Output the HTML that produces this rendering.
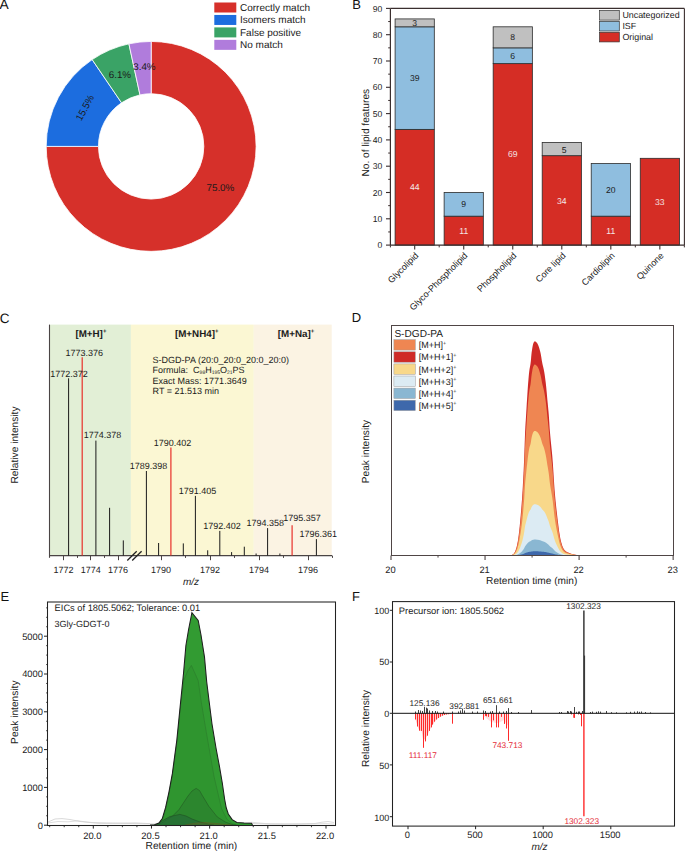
<!DOCTYPE html>
<html><head><meta charset="utf-8"><style>
html,body{margin:0;padding:0;background:#fff;}
svg{display:block;font-family:"Liberation Sans", sans-serif;text-rendering:geometricPrecision;}
</style></head><body>
<svg width="685" height="852" viewBox="0 0 685 852">
<rect width="685" height="852" fill="#fff"/>
<text x="-0.60" y="9.40" font-size="13.8" text-anchor="start" fill="#111" >A</text>
<path d="M151.15,41.45 A104.95,104.95 0 1 1 46.20,146.40 L98.45,146.40 A52.7,52.7 0 1 0 151.15,93.70 Z" fill="#d6302a" stroke="#fff" stroke-width="0.8"/>
<path d="M46.20,146.40 A104.95,104.95 0 0 1 92.16,59.60 L121.53,102.81 A52.7,52.7 0 0 0 98.45,146.40 Z" fill="#1c6ddf" stroke="#fff" stroke-width="0.8"/>
<path d="M92.16,59.60 A104.95,104.95 0 0 1 128.90,43.84 L139.98,94.90 A52.7,52.7 0 0 0 121.53,102.81 Z" fill="#3aa366" stroke="#fff" stroke-width="0.8"/>
<path d="M128.90,43.84 A104.95,104.95 0 0 1 151.15,41.45 L151.15,93.70 A52.7,52.7 0 0 0 139.98,94.90 Z" fill="#b07cdc" stroke="#fff" stroke-width="0.8"/>
<text x="220.40" y="191.00" font-size="9.85" text-anchor="middle" fill="#1a1a1a" >75.0%</text>
<text x="119.90" y="77.70" font-size="9.8" text-anchor="middle" fill="#1a1a1a" >6.1%</text>
<text x="144.40" y="69.70" font-size="9.8" text-anchor="middle" fill="#1a1a1a" >3.4%</text>
<g transform="translate(84.8,107.7) rotate(-62)"><text x="0" y="3.5" font-size="9.8" text-anchor="middle" fill="#1a1a1a">15.5%</text></g>
<rect x="214.30" y="2.50" width="22.00" height="10.00" fill="#d6302a" stroke="none" stroke-width="0" />
<text x="240.00" y="10.70" font-size="10" text-anchor="start" fill="#1a1a1a" >Correctly match</text>
<rect x="214.30" y="14.95" width="22.00" height="10.00" fill="#1c6ddf" stroke="none" stroke-width="0" />
<text x="240.00" y="23.15" font-size="10" text-anchor="start" fill="#1a1a1a" >Isomers match</text>
<rect x="214.30" y="27.40" width="22.00" height="10.00" fill="#3aa366" stroke="none" stroke-width="0" />
<text x="240.00" y="35.60" font-size="10" text-anchor="start" fill="#1a1a1a" >False positive</text>
<rect x="214.30" y="39.85" width="22.00" height="10.00" fill="#b07cdc" stroke="none" stroke-width="0" />
<text x="240.00" y="48.05" font-size="10" text-anchor="start" fill="#1a1a1a" >No match</text>
<text x="352.30" y="8.90" font-size="13" text-anchor="start" fill="#111" >B</text>
<rect x="395.10" y="129.38" width="39.20" height="115.72" fill="#d52d25" stroke="#2a2a2a" stroke-width="0.8" />
<text x="414.70" y="190.34" font-size="8.6" text-anchor="middle" fill="#f3e6e6" >44</text>
<rect x="395.10" y="26.81" width="39.20" height="102.57" fill="#8fbedf" stroke="#2a2a2a" stroke-width="0.8" />
<text x="414.70" y="81.19" font-size="8.6" text-anchor="middle" fill="#1a1a1a" >39</text>
<rect x="395.10" y="18.92" width="39.20" height="7.89" fill="#c0c0c0" stroke="#2a2a2a" stroke-width="0.8" />
<text x="414.70" y="25.97" font-size="8.6" text-anchor="middle" fill="#1a1a1a" >3</text>
<rect x="444.13" y="216.17" width="39.20" height="28.93" fill="#d52d25" stroke="#2a2a2a" stroke-width="0.8" />
<text x="463.73" y="233.73" font-size="8.6" text-anchor="middle" fill="#f3e6e6" >11</text>
<rect x="444.13" y="192.50" width="39.20" height="23.67" fill="#8fbedf" stroke="#2a2a2a" stroke-width="0.8" />
<text x="463.73" y="207.43" font-size="8.6" text-anchor="middle" fill="#1a1a1a" >9</text>
<rect x="493.16" y="63.63" width="39.20" height="181.47" fill="#d52d25" stroke="#2a2a2a" stroke-width="0.8" />
<text x="512.76" y="157.47" font-size="8.6" text-anchor="middle" fill="#f3e6e6" >69</text>
<rect x="493.16" y="47.85" width="39.20" height="15.78" fill="#8fbedf" stroke="#2a2a2a" stroke-width="0.8" />
<text x="512.76" y="58.84" font-size="8.6" text-anchor="middle" fill="#1a1a1a" >6</text>
<rect x="493.16" y="26.81" width="39.20" height="21.04" fill="#c0c0c0" stroke="#2a2a2a" stroke-width="0.8" />
<text x="512.76" y="40.43" font-size="8.6" text-anchor="middle" fill="#1a1a1a" >8</text>
<rect x="542.19" y="155.68" width="39.20" height="89.42" fill="#d52d25" stroke="#2a2a2a" stroke-width="0.8" />
<text x="561.79" y="204.49" font-size="8.6" text-anchor="middle" fill="#f3e6e6" >34</text>
<rect x="542.19" y="142.53" width="39.20" height="13.15" fill="#c0c0c0" stroke="#2a2a2a" stroke-width="0.8" />
<text x="564.09" y="153.41" font-size="8.6" text-anchor="middle" fill="#1a1a1a" >5</text>
<rect x="591.22" y="216.17" width="39.20" height="28.93" fill="#d52d25" stroke="#2a2a2a" stroke-width="0.8" />
<text x="610.82" y="233.73" font-size="8.6" text-anchor="middle" fill="#f3e6e6" >11</text>
<rect x="591.22" y="163.57" width="39.20" height="52.60" fill="#8fbedf" stroke="#2a2a2a" stroke-width="0.8" />
<text x="610.82" y="192.97" font-size="8.6" text-anchor="middle" fill="#1a1a1a" >20</text>
<rect x="640.25" y="158.31" width="39.20" height="86.79" fill="#d52d25" stroke="#2a2a2a" stroke-width="0.8" />
<text x="659.85" y="204.80" font-size="8.6" text-anchor="middle" fill="#f3e6e6" >33</text>
<line x1="390.40" y1="8.40" x2="684.40" y2="8.40" stroke="#3a2e2e" stroke-width="1.1" />
<line x1="684.40" y1="8.40" x2="684.40" y2="245.10" stroke="#3a2e2e" stroke-width="1.1" />
<line x1="390.40" y1="245.10" x2="684.40" y2="245.10" stroke="#3a2e2e" stroke-width="1.2" />
<line x1="390.40" y1="8.40" x2="390.40" y2="245.10" stroke="#3a2e2e" stroke-width="1.2" />
<line x1="386.00" y1="245.10" x2="390.40" y2="245.10" stroke="#3a2e2e" stroke-width="1.1" />
<text x="382.20" y="248.20" font-size="8.6" text-anchor="end" fill="#222" >0</text>
<line x1="388.20" y1="231.95" x2="390.40" y2="231.95" stroke="#3a2e2e" stroke-width="1.0" />
<line x1="386.00" y1="218.80" x2="390.40" y2="218.80" stroke="#3a2e2e" stroke-width="1.1" />
<text x="382.20" y="221.90" font-size="8.6" text-anchor="end" fill="#222" >10</text>
<line x1="388.20" y1="205.65" x2="390.40" y2="205.65" stroke="#3a2e2e" stroke-width="1.0" />
<line x1="386.00" y1="192.50" x2="390.40" y2="192.50" stroke="#3a2e2e" stroke-width="1.1" />
<text x="382.20" y="195.60" font-size="8.6" text-anchor="end" fill="#222" >20</text>
<line x1="388.20" y1="179.35" x2="390.40" y2="179.35" stroke="#3a2e2e" stroke-width="1.0" />
<line x1="386.00" y1="166.20" x2="390.40" y2="166.20" stroke="#3a2e2e" stroke-width="1.1" />
<text x="382.20" y="169.30" font-size="8.6" text-anchor="end" fill="#222" >30</text>
<line x1="388.20" y1="153.05" x2="390.40" y2="153.05" stroke="#3a2e2e" stroke-width="1.0" />
<line x1="386.00" y1="139.90" x2="390.40" y2="139.90" stroke="#3a2e2e" stroke-width="1.1" />
<text x="382.20" y="143.00" font-size="8.6" text-anchor="end" fill="#222" >40</text>
<line x1="388.20" y1="126.75" x2="390.40" y2="126.75" stroke="#3a2e2e" stroke-width="1.0" />
<line x1="386.00" y1="113.60" x2="390.40" y2="113.60" stroke="#3a2e2e" stroke-width="1.1" />
<text x="382.20" y="116.70" font-size="8.6" text-anchor="end" fill="#222" >50</text>
<line x1="388.20" y1="100.45" x2="390.40" y2="100.45" stroke="#3a2e2e" stroke-width="1.0" />
<line x1="386.00" y1="87.30" x2="390.40" y2="87.30" stroke="#3a2e2e" stroke-width="1.1" />
<text x="382.20" y="90.40" font-size="8.6" text-anchor="end" fill="#222" >60</text>
<line x1="388.20" y1="74.15" x2="390.40" y2="74.15" stroke="#3a2e2e" stroke-width="1.0" />
<line x1="386.00" y1="61.00" x2="390.40" y2="61.00" stroke="#3a2e2e" stroke-width="1.1" />
<text x="382.20" y="64.10" font-size="8.6" text-anchor="end" fill="#222" >70</text>
<line x1="388.20" y1="47.85" x2="390.40" y2="47.85" stroke="#3a2e2e" stroke-width="1.0" />
<line x1="386.00" y1="34.70" x2="390.40" y2="34.70" stroke="#3a2e2e" stroke-width="1.1" />
<text x="382.20" y="37.80" font-size="8.6" text-anchor="end" fill="#222" >80</text>
<line x1="388.20" y1="21.55" x2="390.40" y2="21.55" stroke="#3a2e2e" stroke-width="1.0" />
<line x1="386.00" y1="8.40" x2="390.40" y2="8.40" stroke="#3a2e2e" stroke-width="1.1" />
<text x="382.20" y="11.50" font-size="8.6" text-anchor="end" fill="#222" >90</text>
<line x1="414.70" y1="245.10" x2="414.70" y2="249.50" stroke="#3a2e2e" stroke-width="1.1" />
<line x1="439.20" y1="245.10" x2="439.20" y2="247.40" stroke="#3a2e2e" stroke-width="1.0" />
<line x1="463.73" y1="245.10" x2="463.73" y2="249.50" stroke="#3a2e2e" stroke-width="1.1" />
<line x1="488.23" y1="245.10" x2="488.23" y2="247.40" stroke="#3a2e2e" stroke-width="1.0" />
<line x1="512.76" y1="245.10" x2="512.76" y2="249.50" stroke="#3a2e2e" stroke-width="1.1" />
<line x1="537.26" y1="245.10" x2="537.26" y2="247.40" stroke="#3a2e2e" stroke-width="1.0" />
<line x1="561.79" y1="245.10" x2="561.79" y2="249.50" stroke="#3a2e2e" stroke-width="1.1" />
<line x1="586.29" y1="245.10" x2="586.29" y2="247.40" stroke="#3a2e2e" stroke-width="1.0" />
<line x1="610.82" y1="245.10" x2="610.82" y2="249.50" stroke="#3a2e2e" stroke-width="1.1" />
<line x1="635.32" y1="245.10" x2="635.32" y2="247.40" stroke="#3a2e2e" stroke-width="1.0" />
<line x1="659.85" y1="245.10" x2="659.85" y2="249.50" stroke="#3a2e2e" stroke-width="1.1" />
<line x1="684.35" y1="245.10" x2="684.35" y2="247.40" stroke="#3a2e2e" stroke-width="1.0" />
<line x1="390.40" y1="245.10" x2="390.40" y2="247.40" stroke="#3a2e2e" stroke-width="1.0" />
<g transform="translate(419.10,256.10) rotate(-45)"><text x="0" y="0" font-size="9" text-anchor="end" fill="#222">Glycolipid</text></g>
<g transform="translate(468.13,256.10) rotate(-45)"><text x="0" y="0" font-size="9" text-anchor="end" fill="#222">Glyco-Phospholipid</text></g>
<g transform="translate(517.16,256.10) rotate(-45)"><text x="0" y="0" font-size="9" text-anchor="end" fill="#222">Phospholipid</text></g>
<g transform="translate(566.19,256.10) rotate(-45)"><text x="0" y="0" font-size="9" text-anchor="end" fill="#222">Core lipid</text></g>
<g transform="translate(615.22,256.10) rotate(-45)"><text x="0" y="0" font-size="9" text-anchor="end" fill="#222">Cardiolipin</text></g>
<g transform="translate(664.25,256.10) rotate(-45)"><text x="0" y="0" font-size="9" text-anchor="end" fill="#222">Quinone</text></g>
<g transform="translate(369.4,132.7) rotate(-90)"><text x="0" y="0" font-size="10.2" text-anchor="middle" fill="#222">No. of lipid features</text></g>
<rect x="599.60" y="10.50" width="19.70" height="9.60" fill="#c0c0c0" stroke="#333" stroke-width="0.7" />
<text x="622.40" y="18.40" font-size="8.9" text-anchor="start" fill="#1a1a1a" >Uncategorized</text>
<rect x="599.60" y="21.40" width="19.70" height="9.60" fill="#8fbedf" stroke="#333" stroke-width="0.7" />
<text x="622.40" y="29.30" font-size="8.9" text-anchor="start" fill="#1a1a1a" >ISF</text>
<rect x="599.60" y="32.30" width="19.70" height="9.60" fill="#d52d25" stroke="#333" stroke-width="0.7" />
<text x="622.40" y="40.20" font-size="8.9" text-anchor="start" fill="#1a1a1a" >Original</text>
<text x="-0.30" y="323.30" font-size="13.5" text-anchor="start" fill="#111" >C</text>
<rect x="50.00" y="324.60" width="80.90" height="230.90" fill="#e2efd6" stroke="none" stroke-width="0" />
<rect x="130.90" y="324.60" width="122.90" height="230.90" fill="#fbf7d3" stroke="none" stroke-width="0" />
<rect x="253.80" y="324.60" width="77.90" height="230.90" fill="#fbf3e3" stroke="none" stroke-width="0" />
<line x1="49.50" y1="324.60" x2="49.50" y2="557.80" stroke="#4a4444" stroke-width="1.1" />
<line x1="49.00" y1="555.60" x2="332.00" y2="555.60" stroke="#4a4444" stroke-width="1.1" />
<line x1="127.30" y1="560.50" x2="136.70" y2="551.30" stroke="#222" stroke-width="1.3" />
<line x1="132.20" y1="560.50" x2="141.60" y2="551.30" stroke="#222" stroke-width="1.3" />
<line x1="63.50" y1="555.60" x2="63.50" y2="560.20" stroke="#4a4444" stroke-width="1.0" />
<text x="63.50" y="573.20" font-size="9" text-anchor="middle" fill="#222" >1772</text>
<line x1="90.50" y1="555.60" x2="90.50" y2="560.20" stroke="#4a4444" stroke-width="1.0" />
<text x="90.80" y="573.20" font-size="9" text-anchor="middle" fill="#222" >1774</text>
<line x1="118.50" y1="555.60" x2="118.50" y2="560.20" stroke="#4a4444" stroke-width="1.0" />
<text x="118.10" y="573.20" font-size="9" text-anchor="middle" fill="#222" >1776</text>
<line x1="77.50" y1="555.60" x2="77.50" y2="557.90" stroke="#4a4444" stroke-width="1.0" />
<line x1="104.50" y1="555.60" x2="104.50" y2="557.90" stroke="#4a4444" stroke-width="1.0" />
<line x1="161.50" y1="555.60" x2="161.50" y2="560.20" stroke="#4a4444" stroke-width="1.0" />
<text x="161.00" y="573.20" font-size="9" text-anchor="middle" fill="#222" >1790</text>
<line x1="210.50" y1="555.60" x2="210.50" y2="560.20" stroke="#4a4444" stroke-width="1.0" />
<text x="210.00" y="573.20" font-size="9" text-anchor="middle" fill="#222" >1792</text>
<line x1="259.50" y1="555.60" x2="259.50" y2="560.20" stroke="#4a4444" stroke-width="1.0" />
<text x="259.00" y="573.20" font-size="9" text-anchor="middle" fill="#222" >1794</text>
<line x1="308.50" y1="555.60" x2="308.50" y2="560.20" stroke="#4a4444" stroke-width="1.0" />
<text x="308.00" y="573.20" font-size="9" text-anchor="middle" fill="#222" >1796</text>
<line x1="185.50" y1="555.60" x2="185.50" y2="557.90" stroke="#4a4444" stroke-width="1.0" />
<line x1="234.50" y1="555.60" x2="234.50" y2="557.90" stroke="#4a4444" stroke-width="1.0" />
<line x1="283.50" y1="555.60" x2="283.50" y2="557.90" stroke="#4a4444" stroke-width="1.0" />
<line x1="332.50" y1="555.60" x2="332.50" y2="557.90" stroke="#4a4444" stroke-width="1.0" />
<text x="191" y="585.2" font-size="10" text-anchor="middle" fill="#222" font-style="italic">m/z</text>
<g transform="translate(17.6,445) rotate(-90)"><text x="0" y="0" font-size="10.2" text-anchor="middle" fill="#222">Relative intensity</text></g>
<line x1="68.60" y1="378.30" x2="68.60" y2="555.60" stroke="#1a1a1a" stroke-width="1.0" />
<line x1="82.20" y1="357.30" x2="82.20" y2="555.60" stroke="#e8302a" stroke-width="1.2" />
<line x1="95.90" y1="440.60" x2="95.90" y2="555.60" stroke="#1a1a1a" stroke-width="1.0" />
<line x1="109.60" y1="507.80" x2="109.60" y2="555.60" stroke="#1a1a1a" stroke-width="1.0" />
<line x1="123.30" y1="540.40" x2="123.30" y2="555.60" stroke="#1a1a1a" stroke-width="1.0" />
<line x1="146.40" y1="471.00" x2="146.40" y2="555.60" stroke="#1a1a1a" stroke-width="1.0" />
<line x1="158.60" y1="543.00" x2="158.60" y2="555.60" stroke="#1a1a1a" stroke-width="1.0" />
<line x1="170.90" y1="447.40" x2="170.90" y2="555.60" stroke="#e8302a" stroke-width="1.2" />
<line x1="183.30" y1="543.40" x2="183.30" y2="555.60" stroke="#1a1a1a" stroke-width="1.0" />
<line x1="195.40" y1="495.90" x2="195.40" y2="555.60" stroke="#1a1a1a" stroke-width="1.0" />
<line x1="207.70" y1="550.30" x2="207.70" y2="555.60" stroke="#1a1a1a" stroke-width="1.0" />
<line x1="219.80" y1="530.90" x2="219.80" y2="555.60" stroke="#1a1a1a" stroke-width="1.0" />
<line x1="231.60" y1="552.10" x2="231.60" y2="555.60" stroke="#1a1a1a" stroke-width="1.0" />
<line x1="244.30" y1="546.70" x2="244.30" y2="555.60" stroke="#1a1a1a" stroke-width="1.0" />
<line x1="256.10" y1="553.50" x2="256.10" y2="555.60" stroke="#1a1a1a" stroke-width="1.0" />
<line x1="267.60" y1="528.10" x2="267.60" y2="555.60" stroke="#1a1a1a" stroke-width="1.0" />
<line x1="279.90" y1="553.50" x2="279.90" y2="555.60" stroke="#1a1a1a" stroke-width="1.0" />
<line x1="292.10" y1="525.30" x2="292.10" y2="555.60" stroke="#e8302a" stroke-width="1.2" />
<line x1="316.40" y1="539.10" x2="316.40" y2="555.60" stroke="#1a1a1a" stroke-width="1.0" />
<text x="84.30" y="356.40" font-size="9" text-anchor="middle" fill="#1a1a1a" >1773.376</text>
<text x="69.00" y="377.00" font-size="9" text-anchor="middle" fill="#1a1a1a" >1772.372</text>
<text x="102.50" y="438.30" font-size="9" text-anchor="middle" fill="#1a1a1a" >1774.378</text>
<text x="148.40" y="468.90" font-size="9" text-anchor="middle" fill="#1a1a1a" >1789.398</text>
<text x="172.50" y="446.30" font-size="9" text-anchor="middle" fill="#1a1a1a" >1790.402</text>
<text x="197.60" y="493.60" font-size="9" text-anchor="middle" fill="#1a1a1a" >1791.405</text>
<text x="221.90" y="528.60" font-size="9" text-anchor="middle" fill="#1a1a1a" >1792.402</text>
<text x="265.30" y="526.00" font-size="9" text-anchor="middle" fill="#1a1a1a" >1794.358</text>
<text x="302.10" y="521.20" font-size="9" text-anchor="middle" fill="#1a1a1a" >1795.357</text>
<text x="318.20" y="537.40" font-size="9" text-anchor="middle" fill="#1a1a1a" >1796.361</text>
<text x="90.9" y="337.4" font-size="9.8" font-weight="bold" text-anchor="middle" fill="#1a1a1a">[M+H]<tspan font-size="6" dy="-4">+</tspan></text>
<text x="196.7" y="337.4" font-size="9.8" font-weight="bold" text-anchor="middle" fill="#1a1a1a">[M+NH4]<tspan font-size="6" dy="-4">+</tspan></text>
<text x="296" y="337.4" font-size="9.8" font-weight="bold" text-anchor="middle" fill="#1a1a1a">[M+Na]<tspan font-size="6" dy="-4">+</tspan></text>
<text x="152.60" y="363.20" font-size="9" text-anchor="start" fill="#1a1a1a" >S-DGD-PA (20:0_20:0_20:0_20:0)</text>
<text x="152.6" y="373.4" font-size="9" fill="#1a1a1a">Formula:&#160; C<tspan font-size="5" dy="1">98</tspan><tspan dy="-1">H</tspan><tspan font-size="5" dy="1">195</tspan><tspan dy="-1">O</tspan><tspan font-size="5" dy="1">21</tspan><tspan dy="-1">PS</tspan></text>
<text x="152.60" y="383.60" font-size="9" text-anchor="start" fill="#1a1a1a" >Exact Mass: 1771.3649</text>
<text x="152.60" y="393.80" font-size="9" text-anchor="start" fill="#1a1a1a" >RT = 21.513 min</text>
<text x="351.80" y="322.30" font-size="13" text-anchor="start" fill="#111" >D</text>
<path d="M510.20,555.50 L511.20,555.18 L512.36,554.75 L513.04,554.31 L513.52,553.88 L513.91,553.45 L514.23,553.02 L514.51,552.58 L514.76,552.15 L514.98,551.72 L515.18,551.28 L515.37,550.85 L515.54,550.42 L515.70,549.99 L515.86,549.55 L516.00,549.12 L516.13,548.69 L516.26,548.26 L516.39,547.82 L516.51,547.39 L516.62,546.96 L516.73,546.53 L516.83,546.09 L516.94,545.66 L517.03,545.23 L517.13,544.79 L517.13,544.79 L517.47,543.09 L517.78,541.38 L518.07,539.67 L518.32,537.97 L518.56,536.26 L518.78,534.55 L518.99,532.84 L519.18,531.14 L519.37,529.43 L519.55,527.72 L519.73,526.01 L519.89,524.31 L520.06,522.60 L520.22,520.89 L520.37,519.18 L520.52,517.48 L520.68,515.77 L520.82,514.06 L520.97,512.35 L521.12,510.65 L521.26,508.94 L521.40,507.23 L521.53,505.52 L521.66,503.82 L521.79,502.11 L521.92,500.40 L522.04,498.70 L522.15,496.99 L522.27,495.28 L522.38,493.57 L522.49,491.87 L522.59,490.16 L522.69,488.45 L522.79,486.74 L522.88,485.04 L522.98,483.33 L523.07,481.62 L523.16,479.91 L523.25,478.21 L523.34,476.50 L523.43,474.79 L523.51,473.08 L523.59,471.38 L523.67,469.67 L523.75,467.96 L523.83,466.25 L523.91,464.55 L523.98,462.84 L524.05,461.13 L524.12,459.42 L524.19,457.72 L524.26,456.01 L524.32,454.30 L524.38,452.60 L524.44,450.89 L524.49,449.18 L524.55,447.47 L524.61,445.77 L524.66,444.06 L524.72,442.35 L524.78,440.64 L524.84,438.94 L524.90,437.23 L524.97,435.52 L525.04,433.81 L525.11,432.11 L525.18,430.40 L525.27,428.69 L525.36,426.98 L525.46,425.28 L525.56,423.57 L525.67,421.86 L525.78,420.15 L525.89,418.45 L526.00,416.74 L526.10,415.03 L526.20,413.33 L526.30,411.62 L526.40,409.91 L526.51,408.20 L526.61,406.50 L526.71,404.79 L526.81,403.08 L526.92,401.37 L527.02,399.67 L527.13,397.96 L527.24,396.25 L527.35,394.54 L527.46,392.84 L527.57,391.13 L527.68,389.42 L527.80,387.71 L527.93,386.01 L528.06,384.30 L528.19,382.59 L528.33,380.88 L528.47,379.18 L528.62,377.47 L528.77,375.76 L528.94,374.05 L529.13,372.35 L529.33,370.64 L529.57,368.93 L529.89,367.23 L530.23,365.52 L530.52,363.81 L530.73,362.10 L530.90,360.40 L531.05,358.69 L531.19,356.98 L531.35,355.27 L531.53,353.57 L531.74,351.86 L531.98,350.15 L532.24,348.44 L532.53,346.74 L532.89,345.03 L533.36,343.32 L534.24,341.61 L534.70,341.40 L535.59,341.61 L537.25,343.32 L538.14,345.03 L538.80,346.74 L539.36,348.44 L539.83,350.15 L540.26,351.86 L540.65,353.57 L540.98,355.27 L541.27,356.98 L541.54,358.69 L541.80,360.40 L542.09,362.10 L542.42,363.81 L542.82,365.52 L543.26,367.23 L543.66,368.93 L544.00,370.64 L544.29,372.35 L544.57,374.05 L544.83,375.76 L545.07,377.47 L545.29,379.18 L545.51,380.88 L545.72,382.59 L545.91,384.30 L546.10,386.01 L546.28,387.71 L546.44,389.42 L546.60,391.13 L546.76,392.84 L546.91,394.54 L547.06,396.25 L547.21,397.96 L547.36,399.67 L547.52,401.37 L547.69,403.08 L547.86,404.79 L548.03,406.50 L548.19,408.20 L548.35,409.91 L548.51,411.62 L548.66,413.33 L548.80,415.03 L548.93,416.74 L549.04,418.45 L549.15,420.15 L549.26,421.86 L549.37,423.57 L549.47,425.28 L549.58,426.98 L549.70,428.69 L549.83,430.40 L549.96,432.11 L550.11,433.81 L550.26,435.52 L550.42,437.23 L550.58,438.94 L550.75,440.64 L550.92,442.35 L551.09,444.06 L551.27,445.77 L551.44,447.47 L551.62,449.18 L551.79,450.89 L551.95,452.60 L552.11,454.30 L552.27,456.01 L552.42,457.72 L552.55,459.42 L552.68,461.13 L552.81,462.84 L552.93,464.55 L553.04,466.25 L553.16,467.96 L553.27,469.67 L553.37,471.38 L553.48,473.08 L553.58,474.79 L553.69,476.50 L553.79,478.21 L553.90,479.91 L554.01,481.62 L554.12,483.33 L554.24,485.04 L554.36,486.74 L554.48,488.45 L554.61,490.16 L554.75,491.87 L554.90,493.57 L555.05,495.28 L555.20,496.99 L555.36,498.70 L555.52,500.40 L555.69,502.11 L555.87,503.82 L556.05,505.52 L556.23,507.23 L556.42,508.94 L556.61,510.65 L556.80,512.35 L557.00,514.06 L557.20,515.77 L557.40,517.48 L557.61,519.18 L557.81,520.89 L558.02,522.60 L558.23,524.31 L558.44,526.01 L558.66,527.72 L558.88,529.43 L559.12,531.14 L559.37,532.84 L559.64,534.55 L559.92,536.26 L560.24,537.97 L560.61,539.67 L561.01,541.38 L561.46,543.09 L561.96,544.79 L561.96,544.79 L562.10,545.23 L562.25,545.66 L562.41,546.09 L562.58,546.53 L562.75,546.96 L562.94,547.39 L563.14,547.82 L563.37,548.26 L563.61,548.69 L563.87,549.12 L564.16,549.55 L564.49,549.99 L564.88,550.42 L565.34,550.85 L565.90,551.28 L566.56,551.72 L567.34,552.15 L568.24,552.58 L569.29,553.02 L570.49,553.45 L571.82,553.88 L573.28,554.31 L575.20,554.75 L578.20,555.18 L579.70,555.50 Z" fill="#cf2b27" stroke="none"/>
<path d="M510.20,555.50 L511.20,555.21 L512.36,554.83 L513.04,554.44 L513.52,554.06 L513.91,553.67 L514.23,553.28 L514.51,552.90 L514.76,552.51 L514.98,552.13 L515.18,551.74 L515.37,551.36 L515.54,550.97 L515.70,550.58 L515.86,550.20 L516.00,549.81 L516.13,549.43 L516.26,549.04 L516.39,548.66 L516.51,548.27 L516.62,547.88 L516.73,547.50 L516.83,547.11 L516.94,546.73 L517.03,546.34 L517.13,545.96 L517.13,545.96 L517.47,544.43 L517.78,542.91 L518.07,541.39 L518.32,539.87 L518.56,538.34 L518.78,536.82 L518.99,535.30 L519.18,533.78 L519.37,532.25 L519.55,530.73 L519.73,529.21 L519.89,527.69 L520.06,526.16 L520.22,524.64 L520.37,523.12 L520.52,521.60 L520.68,520.07 L520.82,518.55 L520.97,517.03 L521.12,515.51 L521.26,513.98 L521.40,512.46 L521.53,510.94 L521.66,509.42 L521.79,507.90 L521.92,506.37 L522.04,504.85 L522.15,503.33 L522.27,501.81 L522.38,500.28 L522.49,498.76 L522.59,497.24 L522.69,495.72 L522.79,494.19 L522.88,492.67 L522.98,491.15 L523.07,489.63 L523.16,488.10 L523.25,486.58 L523.34,485.06 L523.43,483.54 L523.51,482.01 L523.59,480.49 L523.67,478.97 L523.75,477.45 L523.83,475.93 L523.91,474.40 L523.98,472.88 L524.05,471.36 L524.12,469.84 L524.19,468.31 L524.26,466.79 L524.32,465.27 L524.38,463.75 L524.44,462.22 L524.49,460.70 L524.55,459.18 L524.61,457.66 L524.66,456.13 L524.72,454.61 L524.78,453.09 L524.84,451.57 L524.90,450.04 L524.97,448.52 L525.04,447.00 L525.11,445.48 L525.18,443.96 L525.27,442.43 L525.36,440.91 L525.46,439.39 L525.56,437.87 L525.67,436.34 L525.78,434.82 L525.89,433.30 L526.00,431.78 L526.10,430.25 L526.20,428.73 L526.30,427.21 L526.40,425.69 L526.51,424.16 L526.61,422.64 L526.71,421.12 L526.81,419.60 L526.92,418.07 L527.02,416.55 L527.13,415.03 L527.24,413.51 L527.35,411.98 L527.46,410.46 L527.57,408.94 L527.68,407.42 L527.80,405.90 L527.93,404.37 L528.06,402.85 L528.19,401.33 L528.33,399.81 L528.47,398.28 L528.62,396.76 L528.77,395.24 L528.94,393.72 L529.13,392.19 L529.33,390.67 L529.57,389.15 L529.89,387.63 L530.23,386.10 L530.52,384.58 L530.73,383.06 L530.90,381.54 L531.05,380.01 L531.19,378.49 L531.35,376.97 L531.53,375.45 L531.74,373.93 L531.98,372.40 L532.24,370.88 L532.53,369.36 L532.89,367.84 L533.36,366.31 L534.24,364.79 L534.70,364.60 L535.59,364.79 L537.25,366.31 L538.14,367.84 L538.80,369.36 L539.36,370.88 L539.83,372.40 L540.26,373.93 L540.65,375.45 L540.98,376.97 L541.27,378.49 L541.54,380.01 L541.80,381.54 L542.09,383.06 L542.42,384.58 L542.82,386.10 L543.26,387.63 L543.66,389.15 L544.00,390.67 L544.29,392.19 L544.57,393.72 L544.83,395.24 L545.07,396.76 L545.29,398.28 L545.51,399.81 L545.72,401.33 L545.91,402.85 L546.10,404.37 L546.28,405.90 L546.44,407.42 L546.60,408.94 L546.76,410.46 L546.91,411.98 L547.06,413.51 L547.21,415.03 L547.36,416.55 L547.52,418.07 L547.69,419.60 L547.86,421.12 L548.03,422.64 L548.19,424.16 L548.35,425.69 L548.51,427.21 L548.66,428.73 L548.80,430.25 L548.93,431.78 L549.04,433.30 L549.15,434.82 L549.26,436.34 L549.37,437.87 L549.47,439.39 L549.58,440.91 L549.70,442.43 L549.83,443.96 L549.96,445.48 L550.11,447.00 L550.26,448.52 L550.42,450.04 L550.58,451.57 L550.75,453.09 L550.92,454.61 L551.09,456.13 L551.27,457.66 L551.44,459.18 L551.62,460.70 L551.79,462.22 L551.95,463.75 L552.11,465.27 L552.27,466.79 L552.42,468.31 L552.55,469.84 L552.68,471.36 L552.81,472.88 L552.93,474.40 L553.04,475.93 L553.16,477.45 L553.27,478.97 L553.37,480.49 L553.48,482.01 L553.58,483.54 L553.69,485.06 L553.79,486.58 L553.90,488.10 L554.01,489.63 L554.12,491.15 L554.24,492.67 L554.36,494.19 L554.48,495.72 L554.61,497.24 L554.75,498.76 L554.90,500.28 L555.05,501.81 L555.20,503.33 L555.36,504.85 L555.52,506.37 L555.69,507.90 L555.87,509.42 L556.05,510.94 L556.23,512.46 L556.42,513.98 L556.61,515.51 L556.80,517.03 L557.00,518.55 L557.20,520.07 L557.40,521.60 L557.61,523.12 L557.81,524.64 L558.02,526.16 L558.23,527.69 L558.44,529.21 L558.66,530.73 L558.88,532.25 L559.12,533.78 L559.37,535.30 L559.64,536.82 L559.92,538.34 L560.24,539.87 L560.61,541.39 L561.01,542.91 L561.46,544.43 L561.96,545.96 L561.96,545.96 L562.10,546.34 L562.25,546.73 L562.41,547.11 L562.58,547.50 L562.75,547.88 L562.94,548.27 L563.14,548.66 L563.37,549.04 L563.61,549.43 L563.87,549.81 L564.16,550.20 L564.49,550.58 L564.88,550.97 L565.34,551.36 L565.90,551.74 L566.56,552.13 L567.34,552.51 L568.24,552.90 L569.29,553.28 L570.49,553.67 L571.82,554.06 L573.28,554.44 L575.20,554.83 L578.20,555.21 L579.70,555.50 Z" fill="#ef8652" stroke="none"/>
<path d="M510.20,555.50 L511.20,555.31 L512.36,555.06 L513.04,554.81 L513.52,554.56 L513.91,554.31 L514.23,554.06 L514.51,553.80 L514.76,553.55 L514.98,553.30 L515.18,553.05 L515.37,552.80 L515.54,552.55 L515.70,552.29 L515.86,552.04 L516.00,551.79 L516.13,551.54 L516.26,551.29 L516.39,551.04 L516.51,550.78 L516.62,550.53 L516.73,550.28 L516.83,550.03 L516.94,549.78 L517.03,549.53 L517.13,549.27 L517.13,549.27 L517.47,548.28 L517.78,547.29 L518.07,546.30 L518.32,545.30 L518.56,544.31 L518.78,543.32 L518.99,542.32 L519.18,541.33 L519.37,540.34 L519.55,539.35 L519.73,538.35 L519.89,537.36 L520.06,536.37 L520.22,535.37 L520.37,534.38 L520.52,533.39 L520.68,532.40 L520.82,531.40 L520.97,530.41 L521.12,529.42 L521.26,528.42 L521.40,527.43 L521.53,526.44 L521.66,525.45 L521.79,524.45 L521.92,523.46 L522.04,522.47 L522.15,521.47 L522.27,520.48 L522.38,519.49 L522.49,518.50 L522.59,517.50 L522.69,516.51 L522.79,515.52 L522.88,514.52 L522.98,513.53 L523.07,512.54 L523.16,511.55 L523.25,510.55 L523.34,509.56 L523.43,508.57 L523.51,507.57 L523.59,506.58 L523.67,505.59 L523.75,504.60 L523.83,503.60 L523.91,502.61 L523.98,501.62 L524.05,500.62 L524.12,499.63 L524.19,498.64 L524.26,497.65 L524.32,496.65 L524.38,495.66 L524.44,494.67 L524.49,493.67 L524.55,492.68 L524.61,491.69 L524.66,490.70 L524.72,489.70 L524.78,488.71 L524.84,487.72 L524.90,486.72 L524.97,485.73 L525.04,484.74 L525.11,483.75 L525.18,482.75 L525.27,481.76 L525.36,480.77 L525.46,479.77 L525.56,478.78 L525.67,477.79 L525.78,476.80 L525.89,475.80 L526.00,474.81 L526.10,473.82 L526.20,472.82 L526.30,471.83 L526.40,470.84 L526.51,469.85 L526.61,468.85 L526.71,467.86 L526.81,466.87 L526.92,465.87 L527.02,464.88 L527.13,463.89 L527.24,462.90 L527.35,461.90 L527.46,460.91 L527.57,459.92 L527.68,458.92 L527.80,457.93 L527.93,456.94 L528.06,455.95 L528.19,454.95 L528.33,453.96 L528.47,452.97 L528.62,451.97 L528.77,450.98 L528.94,449.99 L529.13,449.00 L529.33,448.00 L529.57,447.01 L529.89,446.02 L530.23,445.02 L530.52,444.03 L530.73,443.04 L530.90,442.05 L531.05,441.05 L531.19,440.06 L531.35,439.07 L531.53,438.07 L531.74,437.08 L531.98,436.09 L532.24,435.10 L532.53,434.10 L532.89,433.11 L533.36,432.12 L534.24,431.12 L534.70,431.00 L535.59,431.12 L537.25,432.12 L538.14,433.11 L538.80,434.10 L539.36,435.10 L539.83,436.09 L540.26,437.08 L540.65,438.07 L540.98,439.07 L541.27,440.06 L541.54,441.05 L541.80,442.05 L542.09,443.04 L542.42,444.03 L542.82,445.02 L543.26,446.02 L543.66,447.01 L544.00,448.00 L544.29,449.00 L544.57,449.99 L544.83,450.98 L545.07,451.97 L545.29,452.97 L545.51,453.96 L545.72,454.95 L545.91,455.95 L546.10,456.94 L546.28,457.93 L546.44,458.92 L546.60,459.92 L546.76,460.91 L546.91,461.90 L547.06,462.90 L547.21,463.89 L547.36,464.88 L547.52,465.87 L547.69,466.87 L547.86,467.86 L548.03,468.85 L548.19,469.85 L548.35,470.84 L548.51,471.83 L548.66,472.82 L548.80,473.82 L548.93,474.81 L549.04,475.80 L549.15,476.80 L549.26,477.79 L549.37,478.78 L549.47,479.77 L549.58,480.77 L549.70,481.76 L549.83,482.75 L549.96,483.75 L550.11,484.74 L550.26,485.73 L550.42,486.72 L550.58,487.72 L550.75,488.71 L550.92,489.70 L551.09,490.70 L551.27,491.69 L551.44,492.68 L551.62,493.67 L551.79,494.67 L551.95,495.66 L552.11,496.65 L552.27,497.65 L552.42,498.64 L552.55,499.63 L552.68,500.62 L552.81,501.62 L552.93,502.61 L553.04,503.60 L553.16,504.60 L553.27,505.59 L553.37,506.58 L553.48,507.57 L553.58,508.57 L553.69,509.56 L553.79,510.55 L553.90,511.55 L554.01,512.54 L554.12,513.53 L554.24,514.52 L554.36,515.52 L554.48,516.51 L554.61,517.50 L554.75,518.50 L554.90,519.49 L555.05,520.48 L555.20,521.47 L555.36,522.47 L555.52,523.46 L555.69,524.45 L555.87,525.45 L556.05,526.44 L556.23,527.43 L556.42,528.42 L556.61,529.42 L556.80,530.41 L557.00,531.40 L557.20,532.40 L557.40,533.39 L557.61,534.38 L557.81,535.37 L558.02,536.37 L558.23,537.36 L558.44,538.35 L558.66,539.35 L558.88,540.34 L559.12,541.33 L559.37,542.32 L559.64,543.32 L559.92,544.31 L560.24,545.30 L560.61,546.30 L561.01,547.29 L561.46,548.28 L561.96,549.27 L561.96,549.27 L562.10,549.53 L562.25,549.78 L562.41,550.03 L562.58,550.28 L562.75,550.53 L562.94,550.78 L563.14,551.04 L563.37,551.29 L563.61,551.54 L563.87,551.79 L564.16,552.04 L564.49,552.29 L564.88,552.55 L565.34,552.80 L565.90,553.05 L566.56,553.30 L567.34,553.55 L568.24,553.80 L569.29,554.06 L570.49,554.31 L571.82,554.56 L573.28,554.81 L575.20,555.06 L578.20,555.31 L579.70,555.50 Z" fill="#f8d88a" stroke="none"/>
<path d="M510.20,555.50 L511.20,555.42 L512.36,555.32 L513.04,555.22 L513.52,555.11 L513.91,555.01 L514.23,554.91 L514.51,554.80 L514.76,554.70 L514.98,554.60 L515.18,554.49 L515.37,554.39 L515.54,554.29 L515.70,554.18 L515.86,554.08 L516.00,553.97 L516.13,553.87 L516.26,553.77 L516.39,553.66 L516.51,553.56 L516.62,553.46 L516.73,553.35 L516.83,553.25 L516.94,553.15 L517.03,553.04 L517.13,552.94 L517.13,552.94 L517.47,552.53 L517.78,552.12 L518.07,551.72 L518.32,551.31 L518.56,550.90 L518.78,550.49 L518.99,550.08 L519.18,549.67 L519.37,549.27 L519.55,548.86 L519.73,548.45 L519.89,548.04 L520.06,547.63 L520.22,547.22 L520.37,546.82 L520.52,546.41 L520.68,546.00 L520.82,545.59 L520.97,545.18 L521.12,544.77 L521.26,544.37 L521.40,543.96 L521.53,543.55 L521.66,543.14 L521.79,542.73 L521.92,542.32 L522.04,541.92 L522.15,541.51 L522.27,541.10 L522.38,540.69 L522.49,540.28 L522.59,539.87 L522.69,539.47 L522.79,539.06 L522.88,538.65 L522.98,538.24 L523.07,537.83 L523.16,537.42 L523.25,537.02 L523.34,536.61 L523.43,536.20 L523.51,535.79 L523.59,535.38 L523.67,534.97 L523.75,534.57 L523.83,534.16 L523.91,533.75 L523.98,533.34 L524.05,532.93 L524.12,532.52 L524.19,532.12 L524.26,531.71 L524.32,531.30 L524.38,530.89 L524.44,530.48 L524.49,530.07 L524.55,529.67 L524.61,529.26 L524.66,528.85 L524.72,528.44 L524.78,528.03 L524.84,527.62 L524.90,527.22 L524.97,526.81 L525.04,526.40 L525.11,525.99 L525.18,525.58 L525.27,525.17 L525.36,524.77 L525.46,524.36 L525.56,523.95 L525.67,523.54 L525.78,523.13 L525.89,522.73 L526.00,522.32 L526.10,521.91 L526.20,521.50 L526.30,521.09 L526.40,520.68 L526.51,520.28 L526.61,519.87 L526.71,519.46 L526.81,519.05 L526.92,518.64 L527.02,518.23 L527.13,517.83 L527.24,517.42 L527.35,517.01 L527.46,516.60 L527.57,516.19 L527.68,515.78 L527.80,515.38 L527.93,514.97 L528.06,514.56 L528.19,514.15 L528.33,513.74 L528.47,513.33 L528.62,512.93 L528.77,512.52 L528.94,512.11 L529.13,511.70 L529.33,511.29 L529.57,510.88 L529.89,510.48 L530.23,510.07 L530.52,509.66 L530.73,509.25 L530.90,508.84 L531.05,508.43 L531.19,508.03 L531.35,507.62 L531.53,507.21 L531.74,506.80 L531.98,506.39 L532.24,505.98 L532.53,505.58 L532.89,505.17 L533.36,504.76 L534.24,504.35 L534.70,504.30 L535.59,504.35 L537.25,504.76 L538.14,505.17 L538.80,505.58 L539.36,505.98 L539.83,506.39 L540.26,506.80 L540.65,507.21 L540.98,507.62 L541.27,508.03 L541.54,508.43 L541.80,508.84 L542.09,509.25 L542.42,509.66 L542.82,510.07 L543.26,510.48 L543.66,510.88 L544.00,511.29 L544.29,511.70 L544.57,512.11 L544.83,512.52 L545.07,512.93 L545.29,513.33 L545.51,513.74 L545.72,514.15 L545.91,514.56 L546.10,514.97 L546.28,515.38 L546.44,515.78 L546.60,516.19 L546.76,516.60 L546.91,517.01 L547.06,517.42 L547.21,517.83 L547.36,518.23 L547.52,518.64 L547.69,519.05 L547.86,519.46 L548.03,519.87 L548.19,520.28 L548.35,520.68 L548.51,521.09 L548.66,521.50 L548.80,521.91 L548.93,522.32 L549.04,522.73 L549.15,523.13 L549.26,523.54 L549.37,523.95 L549.47,524.36 L549.58,524.77 L549.70,525.17 L549.83,525.58 L549.96,525.99 L550.11,526.40 L550.26,526.81 L550.42,527.22 L550.58,527.62 L550.75,528.03 L550.92,528.44 L551.09,528.85 L551.27,529.26 L551.44,529.67 L551.62,530.07 L551.79,530.48 L551.95,530.89 L552.11,531.30 L552.27,531.71 L552.42,532.12 L552.55,532.52 L552.68,532.93 L552.81,533.34 L552.93,533.75 L553.04,534.16 L553.16,534.57 L553.27,534.97 L553.37,535.38 L553.48,535.79 L553.58,536.20 L553.69,536.61 L553.79,537.02 L553.90,537.42 L554.01,537.83 L554.12,538.24 L554.24,538.65 L554.36,539.06 L554.48,539.47 L554.61,539.87 L554.75,540.28 L554.90,540.69 L555.05,541.10 L555.20,541.51 L555.36,541.92 L555.52,542.32 L555.69,542.73 L555.87,543.14 L556.05,543.55 L556.23,543.96 L556.42,544.37 L556.61,544.77 L556.80,545.18 L557.00,545.59 L557.20,546.00 L557.40,546.41 L557.61,546.82 L557.81,547.22 L558.02,547.63 L558.23,548.04 L558.44,548.45 L558.66,548.86 L558.88,549.27 L559.12,549.67 L559.37,550.08 L559.64,550.49 L559.92,550.90 L560.24,551.31 L560.61,551.72 L561.01,552.12 L561.46,552.53 L561.96,552.94 L561.96,552.94 L562.10,553.04 L562.25,553.15 L562.41,553.25 L562.58,553.35 L562.75,553.46 L562.94,553.56 L563.14,553.66 L563.37,553.77 L563.61,553.87 L563.87,553.97 L564.16,554.08 L564.49,554.18 L564.88,554.29 L565.34,554.39 L565.90,554.49 L566.56,554.60 L567.34,554.70 L568.24,554.80 L569.29,554.91 L570.49,555.01 L571.82,555.11 L573.28,555.22 L575.20,555.32 L578.20,555.42 L579.70,555.50 Z" fill="#dcebf3" stroke="none"/>
<path d="M510.20,555.50 L511.20,555.48 L512.36,555.44 L513.04,555.41 L513.52,555.38 L513.91,555.35 L514.23,555.31 L514.51,555.28 L514.76,555.25 L514.98,555.22 L515.18,555.18 L515.37,555.15 L515.54,555.12 L515.70,555.09 L515.86,555.06 L516.00,555.02 L516.13,554.99 L516.26,554.96 L516.39,554.93 L516.51,554.89 L516.62,554.86 L516.73,554.83 L516.83,554.80 L516.94,554.76 L517.03,554.73 L517.13,554.70 L517.13,554.70 L517.47,554.57 L517.78,554.44 L518.07,554.32 L518.32,554.19 L518.56,554.06 L518.78,553.93 L518.99,553.81 L519.18,553.68 L519.37,553.55 L519.55,553.42 L519.73,553.30 L519.89,553.17 L520.06,553.04 L520.22,552.91 L520.37,552.79 L520.52,552.66 L520.68,552.53 L520.82,552.40 L520.97,552.28 L521.12,552.15 L521.26,552.02 L521.40,551.89 L521.53,551.77 L521.66,551.64 L521.79,551.51 L521.92,551.38 L522.04,551.25 L522.15,551.13 L522.27,551.00 L522.38,550.87 L522.49,550.74 L522.59,550.62 L522.69,550.49 L522.79,550.36 L522.88,550.23 L522.98,550.11 L523.07,549.98 L523.16,549.85 L523.25,549.72 L523.34,549.60 L523.43,549.47 L523.51,549.34 L523.59,549.21 L523.67,549.09 L523.75,548.96 L523.83,548.83 L523.91,548.70 L523.98,548.58 L524.05,548.45 L524.12,548.32 L524.19,548.19 L524.26,548.06 L524.32,547.94 L524.38,547.81 L524.44,547.68 L524.49,547.55 L524.55,547.43 L524.61,547.30 L524.66,547.17 L524.72,547.04 L524.78,546.92 L524.84,546.79 L524.90,546.66 L524.97,546.53 L525.04,546.41 L525.11,546.28 L525.18,546.15 L525.27,546.02 L525.36,545.90 L525.46,545.77 L525.56,545.64 L525.67,545.51 L525.78,545.39 L525.89,545.26 L526.00,545.13 L526.10,545.00 L526.20,544.88 L526.30,544.75 L526.40,544.62 L526.51,544.49 L526.61,544.36 L526.71,544.24 L526.81,544.11 L526.92,543.98 L527.02,543.85 L527.13,543.73 L527.24,543.60 L527.35,543.47 L527.46,543.34 L527.57,543.22 L527.68,543.09 L527.80,542.96 L527.93,542.83 L528.06,542.71 L528.19,542.58 L528.33,542.45 L528.47,542.32 L528.62,542.20 L528.77,542.07 L528.94,541.94 L529.13,541.81 L529.33,541.69 L529.57,541.56 L529.89,541.43 L530.23,541.30 L530.52,541.17 L530.73,541.05 L530.90,540.92 L531.05,540.79 L531.19,540.66 L531.35,540.54 L531.53,540.41 L531.74,540.28 L531.98,540.15 L532.24,540.03 L532.53,539.90 L532.89,539.77 L533.36,539.64 L534.24,539.52 L534.70,539.50 L535.59,539.52 L537.25,539.64 L538.14,539.77 L538.80,539.90 L539.36,540.03 L539.83,540.15 L540.26,540.28 L540.65,540.41 L540.98,540.54 L541.27,540.66 L541.54,540.79 L541.80,540.92 L542.09,541.05 L542.42,541.17 L542.82,541.30 L543.26,541.43 L543.66,541.56 L544.00,541.69 L544.29,541.81 L544.57,541.94 L544.83,542.07 L545.07,542.20 L545.29,542.32 L545.51,542.45 L545.72,542.58 L545.91,542.71 L546.10,542.83 L546.28,542.96 L546.44,543.09 L546.60,543.22 L546.76,543.34 L546.91,543.47 L547.06,543.60 L547.21,543.73 L547.36,543.85 L547.52,543.98 L547.69,544.11 L547.86,544.24 L548.03,544.36 L548.19,544.49 L548.35,544.62 L548.51,544.75 L548.66,544.88 L548.80,545.00 L548.93,545.13 L549.04,545.26 L549.15,545.39 L549.26,545.51 L549.37,545.64 L549.47,545.77 L549.58,545.90 L549.70,546.02 L549.83,546.15 L549.96,546.28 L550.11,546.41 L550.26,546.53 L550.42,546.66 L550.58,546.79 L550.75,546.92 L550.92,547.04 L551.09,547.17 L551.27,547.30 L551.44,547.43 L551.62,547.55 L551.79,547.68 L551.95,547.81 L552.11,547.94 L552.27,548.06 L552.42,548.19 L552.55,548.32 L552.68,548.45 L552.81,548.58 L552.93,548.70 L553.04,548.83 L553.16,548.96 L553.27,549.09 L553.37,549.21 L553.48,549.34 L553.58,549.47 L553.69,549.60 L553.79,549.72 L553.90,549.85 L554.01,549.98 L554.12,550.11 L554.24,550.23 L554.36,550.36 L554.48,550.49 L554.61,550.62 L554.75,550.74 L554.90,550.87 L555.05,551.00 L555.20,551.13 L555.36,551.25 L555.52,551.38 L555.69,551.51 L555.87,551.64 L556.05,551.77 L556.23,551.89 L556.42,552.02 L556.61,552.15 L556.80,552.28 L557.00,552.40 L557.20,552.53 L557.40,552.66 L557.61,552.79 L557.81,552.91 L558.02,553.04 L558.23,553.17 L558.44,553.30 L558.66,553.42 L558.88,553.55 L559.12,553.68 L559.37,553.81 L559.64,553.93 L559.92,554.06 L560.24,554.19 L560.61,554.32 L561.01,554.44 L561.46,554.57 L561.96,554.70 L561.96,554.70 L562.10,554.73 L562.25,554.76 L562.41,554.80 L562.58,554.83 L562.75,554.86 L562.94,554.89 L563.14,554.93 L563.37,554.96 L563.61,554.99 L563.87,555.02 L564.16,555.06 L564.49,555.09 L564.88,555.12 L565.34,555.15 L565.90,555.18 L566.56,555.22 L567.34,555.25 L568.24,555.28 L569.29,555.31 L570.49,555.35 L571.82,555.38 L573.28,555.41 L575.20,555.44 L578.20,555.48 L579.70,555.50 Z" fill="#8ab7d2" stroke="none"/>
<path d="M510.20,555.50 L511.20,555.49 L512.36,555.49 L513.04,555.48 L513.52,555.47 L513.91,555.46 L514.23,555.45 L514.51,555.44 L514.76,555.43 L514.98,555.43 L515.18,555.42 L515.37,555.41 L515.54,555.40 L515.70,555.39 L515.86,555.38 L516.00,555.37 L516.13,555.37 L516.26,555.36 L516.39,555.35 L516.51,555.34 L516.62,555.33 L516.73,555.32 L516.83,555.32 L516.94,555.31 L517.03,555.30 L517.13,555.29 L517.13,555.29 L517.47,555.26 L517.78,555.22 L518.07,555.19 L518.32,555.16 L518.56,555.12 L518.78,555.09 L518.99,555.06 L519.18,555.02 L519.37,554.99 L519.55,554.96 L519.73,554.92 L519.89,554.89 L520.06,554.85 L520.22,554.82 L520.37,554.79 L520.52,554.75 L520.68,554.72 L520.82,554.69 L520.97,554.65 L521.12,554.62 L521.26,554.59 L521.40,554.55 L521.53,554.52 L521.66,554.49 L521.79,554.45 L521.92,554.42 L522.04,554.39 L522.15,554.35 L522.27,554.32 L522.38,554.29 L522.49,554.25 L522.59,554.22 L522.69,554.18 L522.79,554.15 L522.88,554.12 L522.98,554.08 L523.07,554.05 L523.16,554.02 L523.25,553.98 L523.34,553.95 L523.43,553.92 L523.51,553.88 L523.59,553.85 L523.67,553.82 L523.75,553.78 L523.83,553.75 L523.91,553.72 L523.98,553.68 L524.05,553.65 L524.12,553.62 L524.19,553.58 L524.26,553.55 L524.32,553.51 L524.38,553.48 L524.44,553.45 L524.49,553.41 L524.55,553.38 L524.61,553.35 L524.66,553.31 L524.72,553.28 L524.78,553.25 L524.84,553.21 L524.90,553.18 L524.97,553.15 L525.04,553.11 L525.11,553.08 L525.18,553.05 L525.27,553.01 L525.36,552.98 L525.46,552.95 L525.56,552.91 L525.67,552.88 L525.78,552.84 L525.89,552.81 L526.00,552.78 L526.10,552.74 L526.20,552.71 L526.30,552.68 L526.40,552.64 L526.51,552.61 L526.61,552.58 L526.71,552.54 L526.81,552.51 L526.92,552.48 L527.02,552.44 L527.13,552.41 L527.24,552.38 L527.35,552.34 L527.46,552.31 L527.57,552.28 L527.68,552.24 L527.80,552.21 L527.93,552.18 L528.06,552.14 L528.19,552.11 L528.33,552.07 L528.47,552.04 L528.62,552.01 L528.77,551.97 L528.94,551.94 L529.13,551.91 L529.33,551.87 L529.57,551.84 L529.89,551.81 L530.23,551.77 L530.52,551.74 L530.73,551.71 L530.90,551.67 L531.05,551.64 L531.19,551.61 L531.35,551.57 L531.53,551.54 L531.74,551.51 L531.98,551.47 L532.24,551.44 L532.53,551.40 L532.89,551.37 L533.36,551.34 L534.24,551.30 L534.70,551.30 L535.59,551.30 L537.25,551.34 L538.14,551.37 L538.80,551.40 L539.36,551.44 L539.83,551.47 L540.26,551.51 L540.65,551.54 L540.98,551.57 L541.27,551.61 L541.54,551.64 L541.80,551.67 L542.09,551.71 L542.42,551.74 L542.82,551.77 L543.26,551.81 L543.66,551.84 L544.00,551.87 L544.29,551.91 L544.57,551.94 L544.83,551.97 L545.07,552.01 L545.29,552.04 L545.51,552.07 L545.72,552.11 L545.91,552.14 L546.10,552.18 L546.28,552.21 L546.44,552.24 L546.60,552.28 L546.76,552.31 L546.91,552.34 L547.06,552.38 L547.21,552.41 L547.36,552.44 L547.52,552.48 L547.69,552.51 L547.86,552.54 L548.03,552.58 L548.19,552.61 L548.35,552.64 L548.51,552.68 L548.66,552.71 L548.80,552.74 L548.93,552.78 L549.04,552.81 L549.15,552.84 L549.26,552.88 L549.37,552.91 L549.47,552.95 L549.58,552.98 L549.70,553.01 L549.83,553.05 L549.96,553.08 L550.11,553.11 L550.26,553.15 L550.42,553.18 L550.58,553.21 L550.75,553.25 L550.92,553.28 L551.09,553.31 L551.27,553.35 L551.44,553.38 L551.62,553.41 L551.79,553.45 L551.95,553.48 L552.11,553.51 L552.27,553.55 L552.42,553.58 L552.55,553.62 L552.68,553.65 L552.81,553.68 L552.93,553.72 L553.04,553.75 L553.16,553.78 L553.27,553.82 L553.37,553.85 L553.48,553.88 L553.58,553.92 L553.69,553.95 L553.79,553.98 L553.90,554.02 L554.01,554.05 L554.12,554.08 L554.24,554.12 L554.36,554.15 L554.48,554.18 L554.61,554.22 L554.75,554.25 L554.90,554.29 L555.05,554.32 L555.20,554.35 L555.36,554.39 L555.52,554.42 L555.69,554.45 L555.87,554.49 L556.05,554.52 L556.23,554.55 L556.42,554.59 L556.61,554.62 L556.80,554.65 L557.00,554.69 L557.20,554.72 L557.40,554.75 L557.61,554.79 L557.81,554.82 L558.02,554.85 L558.23,554.89 L558.44,554.92 L558.66,554.96 L558.88,554.99 L559.12,555.02 L559.37,555.06 L559.64,555.09 L559.92,555.12 L560.24,555.16 L560.61,555.19 L561.01,555.22 L561.46,555.26 L561.96,555.29 L561.96,555.29 L562.10,555.30 L562.25,555.31 L562.41,555.32 L562.58,555.32 L562.75,555.33 L562.94,555.34 L563.14,555.35 L563.37,555.36 L563.61,555.37 L563.87,555.37 L564.16,555.38 L564.49,555.39 L564.88,555.40 L565.34,555.41 L565.90,555.42 L566.56,555.43 L567.34,555.43 L568.24,555.44 L569.29,555.45 L570.49,555.46 L571.82,555.47 L573.28,555.48 L575.20,555.49 L578.20,555.49 L579.70,555.50 Z" fill="#3e68ab" stroke="none"/>
<rect x="391.5" y="325.5" width="282" height="230" fill="none" stroke="#4f4545" stroke-width="1.0"/>
<line x1="391.00" y1="555.50" x2="391.00" y2="560.00" stroke="#4f4545" stroke-width="1.1" />
<text x="390.50" y="573.20" font-size="9.3" text-anchor="middle" fill="#222" >20</text>
<line x1="485.05" y1="555.50" x2="485.05" y2="560.00" stroke="#4f4545" stroke-width="1.1" />
<text x="484.55" y="573.20" font-size="9.3" text-anchor="middle" fill="#222" >21</text>
<line x1="579.10" y1="555.50" x2="579.10" y2="560.00" stroke="#4f4545" stroke-width="1.1" />
<text x="578.60" y="573.20" font-size="9.3" text-anchor="middle" fill="#222" >22</text>
<line x1="673.15" y1="555.50" x2="673.15" y2="560.00" stroke="#4f4545" stroke-width="1.1" />
<text x="672.65" y="573.20" font-size="9.3" text-anchor="middle" fill="#222" >23</text>
<line x1="438.02" y1="555.50" x2="438.02" y2="557.60" stroke="#4f4545" stroke-width="1.0" />
<line x1="532.08" y1="555.50" x2="532.08" y2="557.60" stroke="#4f4545" stroke-width="1.0" />
<line x1="626.12" y1="555.50" x2="626.12" y2="557.60" stroke="#4f4545" stroke-width="1.0" />
<text x="531.70" y="584.00" font-size="10.15" text-anchor="middle" fill="#222" >Retention time (min)</text>
<g transform="translate(369.2,451.6) rotate(-90)"><text x="0" y="0" font-size="10.2" text-anchor="middle" fill="#222">Peak intensity</text></g>
<text x="394.40" y="336.70" font-size="10.1" text-anchor="start" fill="#1a1a1a" >S-DGD-PA</text>
<rect x="393.90" y="339.70" width="21.40" height="10.40" fill="#ef8652" stroke="#9a9a9a" stroke-width="0.5" />
<text x="418.7" y="348.30" font-size="9" fill="#222">[M+H]<tspan font-size="5.5" dy="-3.5">+</tspan></text>
<rect x="393.90" y="351.80" width="21.40" height="10.40" fill="#cf2b27" stroke="#9a9a9a" stroke-width="0.5" />
<text x="418.7" y="360.40" font-size="9" fill="#222">[M+H+1]<tspan font-size="5.5" dy="-3.5">+</tspan></text>
<rect x="393.90" y="363.90" width="21.40" height="10.40" fill="#f8d88a" stroke="#9a9a9a" stroke-width="0.5" />
<text x="418.7" y="372.50" font-size="9" fill="#222">[M+H+2]<tspan font-size="5.5" dy="-3.5">+</tspan></text>
<rect x="393.90" y="376.00" width="21.40" height="10.40" fill="#dcebf3" stroke="#9a9a9a" stroke-width="0.5" />
<text x="418.7" y="384.60" font-size="9" fill="#222">[M+H+3]<tspan font-size="5.5" dy="-3.5">+</tspan></text>
<rect x="393.90" y="388.10" width="21.40" height="10.40" fill="#8ab7d2" stroke="#9a9a9a" stroke-width="0.5" />
<text x="418.7" y="396.70" font-size="9" fill="#222">[M+H+4]<tspan font-size="5.5" dy="-3.5">+</tspan></text>
<rect x="393.90" y="400.20" width="21.40" height="10.40" fill="#3e68ab" stroke="#9a9a9a" stroke-width="0.5" />
<text x="418.7" y="408.80" font-size="9" fill="#222">[M+H+5]<tspan font-size="5.5" dy="-3.5">+</tspan></text>
<text x="0.60" y="601.10" font-size="13" text-anchor="start" fill="#111" >E</text>
<path d="M48.00,822.00 L55.00,819.00 L62.00,818.60 L70.00,819.50 L80.00,821.50 L92.00,822.50 L110.00,823.00 L130.00,823.50 L150.00,823.80 L158.00,824.00" fill="none" stroke="#c8c8c8" stroke-width="0.7" />
<path d="M48.00,823.00 L58.00,821.50 L68.00,821.80 L78.00,820.80 L88.00,822.30 L100.00,823.60 L120.00,823.20 L135.00,822.80 L150.00,823.70" fill="none" stroke="#d0d0d0" stroke-width="0.7" />
<path d="M236.00,822.50 L250.00,823.50 L265.00,823.80 L285.00,824.00 L300.00,823.80 L315.00,823.50 L322.00,822.20 L328.00,821.50 L334.00,822.50" fill="none" stroke="#c8c8c8" stroke-width="0.7" />
<path d="M236.00,823.50 L252.00,822.30 L270.00,824.00 L300.00,824.20 L325.00,823.60 L334.00,824.00" fill="none" stroke="#d0d0d0" stroke-width="0.7" />
<path d="M150.00,825.00 L154.50,824.80 L158.90,823.00 L162.30,818.60 L165.60,807.40 L169.00,791.80 L172.30,773.90 L176.80,740.40 L180.10,707.00 L183.50,673.50 L185.90,645.50 L188.50,630.00 L191.90,612.70 L198.20,620.50 L201.00,635.00 L204.50,657.10 L206.70,681.70 L209.30,702.80 L212.00,724.00 L216.00,748.00 L219.40,766.20 L222.30,783.00 L224.60,799.00 L226.30,808.00 L228.30,814.00 L232.20,819.60 L236.90,822.50 L244.00,823.10 L251.50,823.30 L252.50,825.00" fill="#329b32" stroke="none" stroke-width="0" />
<path d="M159.00,825.00 L162.50,819.50 L166.00,808.00 L169.50,791.00 L172.80,773.00 L177.20,740.00 L180.60,707.00 L183.90,680.00 L187.70,671.00 L191.40,665.40 L198.20,680.60 L201.40,702.80 L206.70,734.50 L214.10,776.80 L221.50,808.50 L226.80,819.00 L232.00,823.50 L238.00,825.00" fill="#2f952f" stroke="#2a6e2a" stroke-width="0.55" stroke-opacity="0.75"/>
<path d="M158.00,825.00 L163.40,821.90 L172.30,816.30 L179.00,809.60 L188.00,796.00 L192.00,791.00 L196.10,788.40 L199.50,790.50 L202.50,795.80 L208.80,806.30 L217.30,817.00 L225.70,822.20 L232.00,824.50 L236.00,825.00" fill="#2a7a2e" stroke="#245a24" stroke-width="0.6" fill-opacity="0.55"/>
<path d="M156.00,825.00 L162.00,821.00 L170.00,816.50 L179.90,814.40 L186.00,816.00 L192.00,819.00 L200.00,822.00 L208.00,824.00 L214.00,825.00" fill="#24623a" stroke="#1f4f22" stroke-width="0.6" fill-opacity="0.55"/>
<path d="M185.00,825.00 L195.00,823.20 L205.00,822.60 L215.00,823.40 L225.00,824.40 L232.00,825.00" fill="#5a6a2a" stroke="#6a5a20" stroke-width="0.5" fill-opacity="0.5"/>
<path d="M150.00,825.00 L154.50,824.80 L158.90,823.00 L162.30,818.60 L165.60,807.40 L169.00,791.80 L172.30,773.90 L176.80,740.40 L180.10,707.00 L183.50,673.50 L185.90,645.50 L188.50,630.00 L191.90,612.70 L198.20,620.50 L201.00,635.00 L204.50,657.10 L206.70,681.70 L209.30,702.80 L212.00,724.00 L216.00,748.00 L219.40,766.20 L222.30,783.00 L224.60,799.00 L226.30,808.00 L228.30,814.00 L232.20,819.60 L236.90,822.50 L244.00,823.10 L251.50,823.30 L252.50,825.00" fill="none" stroke="#1e1e1e" stroke-width="1.05" />
<rect x="47.5" y="602" width="288" height="223.5" fill="none" stroke="#222" stroke-width="1.05"/>
<line x1="44.00" y1="825.20" x2="47.70" y2="825.20" stroke="#222" stroke-width="1.0" />
<text x="42.90" y="828.50" font-size="9.3" text-anchor="end" fill="#1a1a1a" >0</text>
<line x1="46.20" y1="815.75" x2="47.70" y2="815.75" stroke="#222" stroke-width="0.9" />
<line x1="46.20" y1="806.30" x2="47.70" y2="806.30" stroke="#222" stroke-width="0.9" />
<line x1="46.20" y1="796.85" x2="47.70" y2="796.85" stroke="#222" stroke-width="0.9" />
<line x1="44.00" y1="787.40" x2="47.70" y2="787.40" stroke="#222" stroke-width="1.0" />
<text x="42.90" y="790.70" font-size="9.3" text-anchor="end" fill="#1a1a1a" >1000</text>
<line x1="46.20" y1="777.95" x2="47.70" y2="777.95" stroke="#222" stroke-width="0.9" />
<line x1="46.20" y1="768.50" x2="47.70" y2="768.50" stroke="#222" stroke-width="0.9" />
<line x1="46.20" y1="759.05" x2="47.70" y2="759.05" stroke="#222" stroke-width="0.9" />
<line x1="44.00" y1="749.60" x2="47.70" y2="749.60" stroke="#222" stroke-width="1.0" />
<text x="42.90" y="752.90" font-size="9.3" text-anchor="end" fill="#1a1a1a" >2000</text>
<line x1="46.20" y1="740.15" x2="47.70" y2="740.15" stroke="#222" stroke-width="0.9" />
<line x1="46.20" y1="730.70" x2="47.70" y2="730.70" stroke="#222" stroke-width="0.9" />
<line x1="46.20" y1="721.25" x2="47.70" y2="721.25" stroke="#222" stroke-width="0.9" />
<line x1="44.00" y1="711.80" x2="47.70" y2="711.80" stroke="#222" stroke-width="1.0" />
<text x="42.90" y="715.10" font-size="9.3" text-anchor="end" fill="#1a1a1a" >3000</text>
<line x1="46.20" y1="702.35" x2="47.70" y2="702.35" stroke="#222" stroke-width="0.9" />
<line x1="46.20" y1="692.90" x2="47.70" y2="692.90" stroke="#222" stroke-width="0.9" />
<line x1="46.20" y1="683.45" x2="47.70" y2="683.45" stroke="#222" stroke-width="0.9" />
<line x1="44.00" y1="674.00" x2="47.70" y2="674.00" stroke="#222" stroke-width="1.0" />
<text x="42.90" y="677.30" font-size="9.3" text-anchor="end" fill="#1a1a1a" >4000</text>
<line x1="46.20" y1="664.55" x2="47.70" y2="664.55" stroke="#222" stroke-width="0.9" />
<line x1="46.20" y1="655.10" x2="47.70" y2="655.10" stroke="#222" stroke-width="0.9" />
<line x1="46.20" y1="645.65" x2="47.70" y2="645.65" stroke="#222" stroke-width="0.9" />
<line x1="44.00" y1="636.20" x2="47.70" y2="636.20" stroke="#222" stroke-width="1.0" />
<text x="42.90" y="639.50" font-size="9.3" text-anchor="end" fill="#1a1a1a" >5000</text>
<line x1="46.20" y1="626.75" x2="47.70" y2="626.75" stroke="#222" stroke-width="0.9" />
<line x1="46.20" y1="617.30" x2="47.70" y2="617.30" stroke="#222" stroke-width="0.9" />
<line x1="46.20" y1="607.85" x2="47.70" y2="607.85" stroke="#222" stroke-width="0.9" />
<line x1="49.67" y1="825.20" x2="49.67" y2="827.20" stroke="#222" stroke-width="0.9" />
<line x1="64.21" y1="825.20" x2="64.21" y2="827.20" stroke="#222" stroke-width="0.9" />
<line x1="78.76" y1="825.20" x2="78.76" y2="827.20" stroke="#222" stroke-width="0.9" />
<line x1="93.30" y1="825.20" x2="93.30" y2="828.60" stroke="#222" stroke-width="1.0" />
<text x="92.30" y="838.50" font-size="9.4" text-anchor="middle" fill="#1a1a1a" >20.0</text>
<line x1="107.84" y1="825.20" x2="107.84" y2="827.20" stroke="#222" stroke-width="0.9" />
<line x1="122.39" y1="825.20" x2="122.39" y2="827.20" stroke="#222" stroke-width="0.9" />
<line x1="136.93" y1="825.20" x2="136.93" y2="827.20" stroke="#222" stroke-width="0.9" />
<line x1="151.47" y1="825.20" x2="151.47" y2="828.60" stroke="#222" stroke-width="1.0" />
<text x="150.47" y="838.50" font-size="9.4" text-anchor="middle" fill="#1a1a1a" >20.5</text>
<line x1="166.02" y1="825.20" x2="166.02" y2="827.20" stroke="#222" stroke-width="0.9" />
<line x1="180.56" y1="825.20" x2="180.56" y2="827.20" stroke="#222" stroke-width="0.9" />
<line x1="195.11" y1="825.20" x2="195.11" y2="827.20" stroke="#222" stroke-width="0.9" />
<line x1="209.65" y1="825.20" x2="209.65" y2="828.60" stroke="#222" stroke-width="1.0" />
<text x="208.65" y="838.50" font-size="9.4" text-anchor="middle" fill="#1a1a1a" >21.0</text>
<line x1="224.19" y1="825.20" x2="224.19" y2="827.20" stroke="#222" stroke-width="0.9" />
<line x1="238.74" y1="825.20" x2="238.74" y2="827.20" stroke="#222" stroke-width="0.9" />
<line x1="253.28" y1="825.20" x2="253.28" y2="827.20" stroke="#222" stroke-width="0.9" />
<line x1="267.82" y1="825.20" x2="267.82" y2="828.60" stroke="#222" stroke-width="1.0" />
<text x="266.82" y="838.50" font-size="9.4" text-anchor="middle" fill="#1a1a1a" >21.5</text>
<line x1="282.37" y1="825.20" x2="282.37" y2="827.20" stroke="#222" stroke-width="0.9" />
<line x1="296.91" y1="825.20" x2="296.91" y2="827.20" stroke="#222" stroke-width="0.9" />
<line x1="311.46" y1="825.20" x2="311.46" y2="827.20" stroke="#222" stroke-width="0.9" />
<line x1="326.00" y1="825.20" x2="326.00" y2="828.60" stroke="#222" stroke-width="1.0" />
<text x="325.00" y="838.50" font-size="9.4" text-anchor="middle" fill="#1a1a1a" >22.0</text>
<text x="191.40" y="849.30" font-size="10.2" text-anchor="middle" fill="#222" >Retention time (min)</text>
<g transform="translate(17.8,712.2) rotate(-90)"><text x="0" y="0" font-size="10.2" text-anchor="middle" fill="#222">Peak intensity</text></g>
<text x="54.60" y="611.20" font-size="9.3" text-anchor="start" fill="#1a1a1a" >EICs of 1805.5062; Tolerance: 0.01</text>
<text x="54.60" y="627.20" font-size="9" text-anchor="start" fill="#1a1a1a" >3Gly-GDGT-0</text>
<text x="352.00" y="601.10" font-size="13" text-anchor="start" fill="#111" >F</text>
<path d="M415.5,713.3 L415.5,719.5 L417.7,726.5 L419.5,730.7 L421.5,730.9 L423.2,740.0 L425.3,739.0 L427.1,735.7 L429.1,730.9 L431.1,727.4 L432.9,724.6 L434.8,721.7 L436.7,719.5 L438.7,718.0 L440.5,716.7 L442.5,715.7 L444.4,715.0 L446.5,714.5 L450.3,714.0 L450.3,713.3 Z" fill="#ff7070" fill-opacity="0.35"/>
<path d="M483.4,713.3 L483.4,716.0 L491.3,722.0 L496.2,723.0 L498.5,723.0 L504.1,720.0 L506.1,724.0 L508.5,726.0 L508.5,713.3 Z" fill="#ff7070" fill-opacity="0.22"/>
<line x1="415.50" y1="713.30" x2="415.50" y2="719.50" stroke="#ff2a2a" stroke-width="1.0" />
<line x1="417.50" y1="713.30" x2="417.50" y2="726.50" stroke="#ff2a2a" stroke-width="1.0" />
<line x1="419.50" y1="713.30" x2="419.50" y2="730.70" stroke="#ff2a2a" stroke-width="1.0" />
<line x1="421.50" y1="713.30" x2="421.50" y2="730.90" stroke="#ff2a2a" stroke-width="1.0" />
<line x1="423.50" y1="713.30" x2="423.50" y2="747.80" stroke="#ff2a2a" stroke-width="1.0" />
<line x1="425.50" y1="713.30" x2="425.50" y2="741.40" stroke="#ff2a2a" stroke-width="1.0" />
<line x1="427.50" y1="713.30" x2="427.50" y2="735.70" stroke="#ff2a2a" stroke-width="1.0" />
<line x1="429.50" y1="713.30" x2="429.50" y2="730.90" stroke="#ff2a2a" stroke-width="1.0" />
<line x1="431.50" y1="713.30" x2="431.50" y2="727.40" stroke="#ff2a2a" stroke-width="1.0" />
<line x1="432.50" y1="713.30" x2="432.50" y2="724.60" stroke="#ff2a2a" stroke-width="1.0" />
<line x1="434.50" y1="713.30" x2="434.50" y2="721.70" stroke="#ff2a2a" stroke-width="1.0" />
<line x1="436.50" y1="713.30" x2="436.50" y2="719.50" stroke="#ff2a2a" stroke-width="1.0" />
<line x1="438.50" y1="713.30" x2="438.50" y2="718.00" stroke="#ff2a2a" stroke-width="1.0" />
<line x1="440.50" y1="713.30" x2="440.50" y2="716.70" stroke="#ff2a2a" stroke-width="1.0" />
<line x1="442.50" y1="713.30" x2="442.50" y2="715.70" stroke="#ff2a2a" stroke-width="1.0" />
<line x1="444.50" y1="713.30" x2="444.50" y2="715.00" stroke="#ff2a2a" stroke-width="1.0" />
<line x1="446.50" y1="713.30" x2="446.50" y2="714.50" stroke="#ff2a2a" stroke-width="1.0" />
<line x1="448.50" y1="713.30" x2="448.50" y2="714.20" stroke="#ff2a2a" stroke-width="1.0" />
<line x1="450.50" y1="713.30" x2="450.50" y2="714.00" stroke="#ff2a2a" stroke-width="1.0" />
<line x1="452.50" y1="713.30" x2="452.50" y2="723.70" stroke="#ff2a2a" stroke-width="1.0" />
<line x1="483.50" y1="713.30" x2="483.50" y2="719.80" stroke="#ff2a2a" stroke-width="1.0" />
<line x1="485.50" y1="713.30" x2="485.50" y2="715.90" stroke="#ff2a2a" stroke-width="1.0" />
<line x1="486.50" y1="713.30" x2="486.50" y2="716.30" stroke="#ff2a2a" stroke-width="1.0" />
<line x1="488.50" y1="713.30" x2="488.50" y2="716.90" stroke="#ff2a2a" stroke-width="1.0" />
<line x1="491.50" y1="713.30" x2="491.50" y2="727.40" stroke="#ff2a2a" stroke-width="1.0" />
<line x1="493.50" y1="713.30" x2="493.50" y2="720.40" stroke="#ff2a2a" stroke-width="1.0" />
<line x1="496.50" y1="713.30" x2="496.50" y2="727.40" stroke="#ff2a2a" stroke-width="1.0" />
<line x1="498.50" y1="713.30" x2="498.50" y2="727.40" stroke="#ff2a2a" stroke-width="1.0" />
<line x1="501.50" y1="713.30" x2="501.50" y2="716.90" stroke="#ff2a2a" stroke-width="1.0" />
<line x1="504.50" y1="713.30" x2="504.50" y2="723.90" stroke="#ff2a2a" stroke-width="1.0" />
<line x1="506.50" y1="713.30" x2="506.50" y2="728.50" stroke="#ff2a2a" stroke-width="1.0" />
<line x1="508.50" y1="713.30" x2="508.50" y2="740.80" stroke="#ff2a2a" stroke-width="1.0" />
<line x1="571.50" y1="713.30" x2="571.50" y2="714.50" stroke="#ff2a2a" stroke-width="1.0" />
<line x1="574.50" y1="713.30" x2="574.50" y2="717.80" stroke="#ff2a2a" stroke-width="1.0" />
<line x1="578.50" y1="713.30" x2="578.50" y2="714.50" stroke="#ff2a2a" stroke-width="1.0" />
<line x1="580.50" y1="713.30" x2="580.50" y2="715.00" stroke="#ff2a2a" stroke-width="1.0" />
<line x1="581.50" y1="713.30" x2="581.50" y2="726.30" stroke="#ff2a2a" stroke-width="1.0" />
<line x1="574.00" y1="713.30" x2="574.00" y2="717.80" stroke="#ff2a2a" stroke-width="1.5" />
<line x1="583.90" y1="713.30" x2="583.90" y2="816.30" stroke="#ff2a2a" stroke-width="1.4" />
<line x1="415.50" y1="713.30" x2="415.50" y2="711.50" stroke="#222" stroke-width="0.85" />
<line x1="418.50" y1="713.30" x2="418.50" y2="710.00" stroke="#222" stroke-width="0.85" />
<line x1="420.50" y1="713.30" x2="420.50" y2="710.50" stroke="#222" stroke-width="0.85" />
<line x1="422.50" y1="713.30" x2="422.50" y2="711.00" stroke="#222" stroke-width="0.85" />
<line x1="424.50" y1="713.30" x2="424.50" y2="706.80" stroke="#222" stroke-width="0.85" />
<line x1="426.50" y1="713.30" x2="426.50" y2="707.70" stroke="#222" stroke-width="0.85" />
<line x1="427.50" y1="713.30" x2="427.50" y2="708.50" stroke="#222" stroke-width="0.85" />
<line x1="429.50" y1="713.30" x2="429.50" y2="710.50" stroke="#222" stroke-width="0.85" />
<line x1="432.50" y1="713.30" x2="432.50" y2="711.00" stroke="#222" stroke-width="0.85" />
<line x1="435.50" y1="713.30" x2="435.50" y2="711.00" stroke="#222" stroke-width="0.85" />
<line x1="437.50" y1="713.30" x2="437.50" y2="711.50" stroke="#222" stroke-width="0.85" />
<line x1="443.50" y1="713.30" x2="443.50" y2="711.50" stroke="#222" stroke-width="0.85" />
<line x1="452.50" y1="713.30" x2="452.50" y2="711.50" stroke="#222" stroke-width="0.85" />
<line x1="458.50" y1="713.30" x2="458.50" y2="711.50" stroke="#222" stroke-width="0.85" />
<line x1="460.50" y1="713.30" x2="460.50" y2="710.50" stroke="#222" stroke-width="0.85" />
<line x1="462.50" y1="713.30" x2="462.50" y2="709.00" stroke="#222" stroke-width="0.85" />
<line x1="464.50" y1="713.30" x2="464.50" y2="710.50" stroke="#222" stroke-width="0.85" />
<line x1="472.50" y1="713.30" x2="472.50" y2="711.50" stroke="#222" stroke-width="0.85" />
<line x1="477.50" y1="713.30" x2="477.50" y2="711.50" stroke="#222" stroke-width="0.85" />
<line x1="483.50" y1="713.30" x2="483.50" y2="710.50" stroke="#222" stroke-width="0.85" />
<line x1="485.50" y1="713.30" x2="485.50" y2="711.00" stroke="#222" stroke-width="0.85" />
<line x1="490.50" y1="713.30" x2="490.50" y2="711.50" stroke="#222" stroke-width="0.85" />
<line x1="492.50" y1="713.30" x2="492.50" y2="711.00" stroke="#222" stroke-width="0.85" />
<line x1="496.50" y1="713.30" x2="496.50" y2="705.20" stroke="#222" stroke-width="0.85" />
<line x1="499.50" y1="713.30" x2="499.50" y2="711.50" stroke="#222" stroke-width="0.85" />
<line x1="503.50" y1="713.30" x2="503.50" y2="711.50" stroke="#222" stroke-width="0.85" />
<line x1="506.50" y1="713.30" x2="506.50" y2="711.00" stroke="#222" stroke-width="0.85" />
<line x1="508.50" y1="713.30" x2="508.50" y2="708.10" stroke="#222" stroke-width="0.85" />
<line x1="511.50" y1="713.30" x2="511.50" y2="712.00" stroke="#222" stroke-width="0.85" />
<line x1="518.50" y1="713.30" x2="518.50" y2="712.00" stroke="#222" stroke-width="0.85" />
<line x1="531.50" y1="713.30" x2="531.50" y2="710.10" stroke="#222" stroke-width="0.85" />
<line x1="559.50" y1="713.30" x2="559.50" y2="712.00" stroke="#222" stroke-width="0.85" />
<line x1="567.50" y1="713.30" x2="567.50" y2="711.00" stroke="#222" stroke-width="0.85" />
<line x1="571.50" y1="713.30" x2="571.50" y2="711.50" stroke="#222" stroke-width="0.85" />
<line x1="574.50" y1="713.30" x2="574.50" y2="707.00" stroke="#222" stroke-width="0.85" />
<line x1="578.50" y1="713.30" x2="578.50" y2="711.50" stroke="#222" stroke-width="0.85" />
<line x1="582.50" y1="713.30" x2="582.50" y2="711.00" stroke="#222" stroke-width="0.85" />
<line x1="561.50" y1="713.30" x2="561.50" y2="712.00" stroke="#222" stroke-width="0.85" />
<line x1="568.50" y1="713.30" x2="568.50" y2="711.50" stroke="#222" stroke-width="0.85" />
<line x1="570.50" y1="713.30" x2="570.50" y2="711.00" stroke="#222" stroke-width="0.85" />
<line x1="576.50" y1="713.30" x2="576.50" y2="711.80" stroke="#222" stroke-width="0.85" />
<line x1="579.50" y1="713.30" x2="579.50" y2="711.50" stroke="#222" stroke-width="0.85" />
<line x1="590.50" y1="713.30" x2="590.50" y2="712.00" stroke="#222" stroke-width="0.85" />
<line x1="592.50" y1="713.30" x2="592.50" y2="711.60" stroke="#222" stroke-width="0.85" />
<line x1="596.50" y1="713.30" x2="596.50" y2="711.80" stroke="#222" stroke-width="0.85" />
<line x1="598.50" y1="713.30" x2="598.50" y2="711.30" stroke="#222" stroke-width="0.85" />
<line x1="600.50" y1="713.30" x2="600.50" y2="711.60" stroke="#222" stroke-width="0.85" />
<line x1="606.50" y1="713.30" x2="606.50" y2="711.00" stroke="#222" stroke-width="0.85" />
<line x1="611.50" y1="713.30" x2="611.50" y2="712.20" stroke="#222" stroke-width="0.85" />
<line x1="616.50" y1="713.30" x2="616.50" y2="712.30" stroke="#222" stroke-width="0.85" />
<line x1="626.50" y1="713.30" x2="626.50" y2="712.30" stroke="#222" stroke-width="0.85" />
<line x1="630.50" y1="713.30" x2="630.50" y2="711.80" stroke="#222" stroke-width="0.85" />
<line x1="634.50" y1="713.30" x2="634.50" y2="711.60" stroke="#222" stroke-width="0.85" />
<line x1="637.50" y1="713.30" x2="637.50" y2="711.30" stroke="#222" stroke-width="0.85" />
<line x1="639.50" y1="713.30" x2="639.50" y2="711.80" stroke="#222" stroke-width="0.85" />
<line x1="641.50" y1="713.30" x2="641.50" y2="711.50" stroke="#222" stroke-width="0.85" />
<line x1="645.50" y1="713.30" x2="645.50" y2="712.00" stroke="#222" stroke-width="0.85" />
<line x1="650.50" y1="713.30" x2="650.50" y2="712.40" stroke="#222" stroke-width="0.85" />
<line x1="583.90" y1="713.30" x2="583.90" y2="610.60" stroke="#1a1a1a" stroke-width="1.3" />
<line x1="584.60" y1="713.30" x2="584.60" y2="655.60" stroke="#1a1a1a" stroke-width="0.8" />
<line x1="392.30" y1="713.30" x2="674.40" y2="713.30" stroke="#111" stroke-width="1.0" />
<rect x="392.5" y="601.6" width="282" height="224.5" fill="none" stroke="#222" stroke-width="1.05"/>
<line x1="389.80" y1="610.30" x2="392.30" y2="610.30" stroke="#222" stroke-width="1.0" />
<text x="389.20" y="613.50" font-size="9.0" text-anchor="end" fill="#1a1a1a" >100</text>
<line x1="389.80" y1="662.00" x2="392.30" y2="662.00" stroke="#222" stroke-width="1.0" />
<text x="389.20" y="665.20" font-size="9.0" text-anchor="end" fill="#1a1a1a" >50</text>
<line x1="389.80" y1="713.30" x2="392.30" y2="713.30" stroke="#222" stroke-width="1.0" />
<text x="389.20" y="716.50" font-size="9.0" text-anchor="end" fill="#1a1a1a" >0</text>
<line x1="389.80" y1="764.90" x2="392.30" y2="764.90" stroke="#222" stroke-width="1.0" />
<text x="389.20" y="769.10" font-size="9.0" text-anchor="end" fill="#1a1a1a" >50</text>
<line x1="389.80" y1="816.70" x2="392.30" y2="816.70" stroke="#222" stroke-width="1.0" />
<text x="389.20" y="820.90" font-size="9.0" text-anchor="end" fill="#1a1a1a" >100</text>
<line x1="408.00" y1="826.00" x2="408.00" y2="829.20" stroke="#222" stroke-width="1.0" />
<text x="407.40" y="838.00" font-size="9.3" text-anchor="middle" fill="#222" >0</text>
<line x1="475.60" y1="826.00" x2="475.60" y2="829.20" stroke="#222" stroke-width="1.0" />
<text x="475.00" y="838.00" font-size="9.3" text-anchor="middle" fill="#222" >500</text>
<line x1="543.20" y1="826.00" x2="543.20" y2="829.20" stroke="#222" stroke-width="1.0" />
<text x="542.60" y="838.00" font-size="9.3" text-anchor="middle" fill="#222" >1000</text>
<line x1="610.80" y1="826.00" x2="610.80" y2="829.20" stroke="#222" stroke-width="1.0" />
<text x="610.20" y="838.00" font-size="9.3" text-anchor="middle" fill="#222" >1500</text>
<text x="539.5" y="849.6" font-size="10" text-anchor="middle" fill="#222" font-style="italic">m/z</text>
<g transform="translate(369.2,728.5) rotate(-90)"><text x="0" y="0" font-size="10.2" text-anchor="middle" fill="#222">Relative intensity</text></g>
<text x="398.80" y="613.80" font-size="9.4" text-anchor="start" fill="#1a1a1a" >Precursor ion: 1805.5062</text>
<text x="583.50" y="609.20" font-size="8.3" text-anchor="middle" fill="#222" >1302.323</text>
<text x="424.50" y="706.40" font-size="8.3" text-anchor="middle" fill="#222" >125.136</text>
<text x="464.30" y="708.70" font-size="8.3" text-anchor="middle" fill="#222" >392.881</text>
<text x="497.90" y="702.60" font-size="8.3" text-anchor="middle" fill="#222" >651.661</text>
<text x="422.80" y="757.60" font-size="8.3" text-anchor="middle" fill="#e42a36" >111.117</text>
<text x="507.40" y="748.40" font-size="8.3" text-anchor="middle" fill="#e42a36" >743.713</text>
<text x="581.70" y="823.70" font-size="8.3" text-anchor="middle" fill="#e42a36" >1302.323</text>
</svg>
</body></html>
